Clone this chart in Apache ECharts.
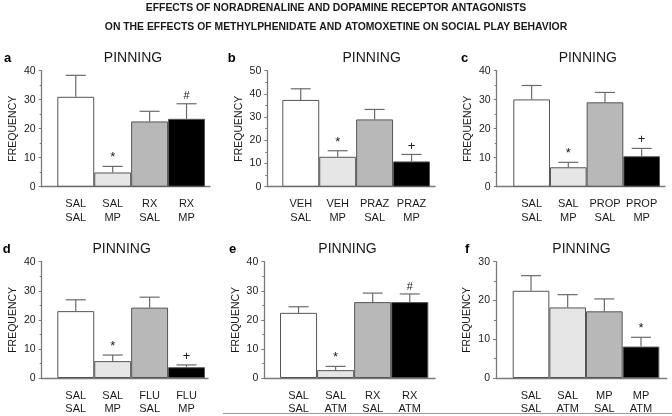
<!DOCTYPE html>
<html>
<head>
<meta charset="utf-8">
<script src="https://cdn.jsdelivr.net/npm/echarts@6/dist/echarts.min.js"></script>
<style>
  html, body { margin: 0; padding: 0; background: #fff; }
  #chart { width: 672px; height: 416px; }
</style>
</head>
<body>
<div id="chart"></div>
<script>
  // 数据
  const titleLines = [
    'EFFECTS OF NORADRENALINE AND DOPAMINE RECEPTOR ANTAGONISTS',
    'ON THE EFFECTS OF METHYLPHENIDATE AND ATOMOXETINE ON SOCIAL PLAY BEHAVIOR'
  ];
  const panelLetters = ['a', 'b', 'c', 'd', 'e', 'f'];
  const panelTitle = 'PINNING';
  const yName = 'FREQUENCY';
  const yMax = [40, 50, 40, 40, 40, 30];
  const yStep = 10;

  const catsA = ['SAL\nSAL', 'SAL\nMP', 'RX\nSAL', 'RX\nMP'];
  const meanA = [31.0, 4.9, 22.5, 23.4];
  const semA = [7.4, 2.1, 3.5, 5.2];
  const markA = ['', '*', '', '#'];

  const catsB = ['VEH\nSAL', 'VEH\nMP', 'PRAZ\nSAL', 'PRAZ\nMP'];
  const meanB = [37.4, 12.9, 29.0, 10.9];
  const semB = [4.8, 2.6, 4.3, 3.0];
  const markB = ['', '*', '', '+'];

  const catsC = ['SAL\nSAL', 'SAL\nMP', 'PROP\nSAL', 'PROP\nMP'];
  const meanC = [30.1, 6.7, 29.1, 10.5];
  const semC = [4.8, 1.7, 3.4, 2.7];
  const markC = ['', '*', '', '+'];

  const catsD = ['SAL\nSAL', 'SAL\nMP', 'FLU\nSAL', 'FLU\nMP'];
  const meanD = [23.0, 5.8, 24.2, 3.7];
  const semD = [3.9, 2.1, 3.6, 0.8];
  const markD = ['', '*', '', '+'];

  const catsE = ['SAL\nSAL', 'SAL\nATM', 'RX\nSAL', 'RX\nATM'];
  const meanE = [22.4, 2.7, 26.1, 26.1];
  const semE = [2.1, 1.3, 3.1, 2.8];
  const markE = ['', '*', '', '#'];

  const catsF = ['SAL\nSAL', 'SAL\nATM', 'MP\nSAL', 'MP\nATM'];
  const meanF = [22.5, 18.2, 17.2, 8.1];
  const semF = [3.9, 3.3, 3.2, 2.4];
  const markF = ['', '', '', '*'];

  const cats = [catsA, catsB, catsC, catsD, catsE, catsF];
  const means = [meanA, meanB, meanC, meanD, meanE, meanF];
  const sems = [semA, semB, semC, semD, semE, semF];
  const marks = [markA, markB, markC, markD, markE, markF];

  // 版面 (px)
  const boxes = [
    { xs: 41.7, bl: 57.3, br: 205, xe: 210, top: 70.7, bottom: 186.7, titleX: 133, letterX: 4, baseY: 62.7 },
    { xs: 267.3, bl: 282.3, br: 430, xe: 435, top: 70.7, bottom: 186.7, titleX: 371.7, letterX: 227.7, baseY: 62.7 },
    { xs: 496.7, bl: 513.3, br: 660, xe: 665, top: 70.7, bottom: 186.7, titleX: 587.8, letterX: 461, baseY: 62.7 },
    { xs: 41.7, bl: 57.3, br: 205, xe: 208, top: 261.7, bottom: 378.3, titleX: 121.7, letterX: 2.7, baseY: 254.3 },
    { xs: 264.3, bl: 280, br: 428.3, xe: 435, top: 261.7, bottom: 379, titleX: 347.5, letterX: 229, baseY: 254 },
    { xs: 496, bl: 512.7, br: 659.3, xe: 666.7, top: 261.7, bottom: 378.3, titleX: 581.5, letterX: 465, baseY: 254 }
  ];
  const barColors = ['#ffffff', '#e6e6e6', '#b8b8b8', '#000000'];
  const font = "'Liberation Sans', Arial, Helvetica, sans-serif";
  const axisColor = '#7a7a7a';
  const textColor = '#1a1a1a';

  const grid = [], xAxis = [], yAxis = [], series = [];
  const graphic = [];

  titleLines.forEach((t, i) => {
    graphic.push({
      type: 'text', x: 336, y: [8, 27][i],
      style: { text: t, font: 'bold 10.4px ' + font, fill: textColor, align: 'center', verticalAlign: 'middle' }
    });
  });

  boxes.forEach((b, i) => {
    const u = (b.br - b.bl) / 4;
    grid.push({ left: b.xs, top: b.top, width: b.xe - b.xs, height: b.bottom - b.top });
    xAxis.push({
      type: 'value', gridIndex: i,
      min: 0.5 - (b.bl - b.xs) / u,
      max: 4.5 + (b.xe - b.br) / u,
      axisLine: { lineStyle: { color: axisColor, width: 1.3 } },
      axisTick: { show: false },
      splitLine: { show: false },
      axisLabel: {
        customValues: [1, 2, 3, 4],
        formatter: v => cats[i][Math.round(v) - 1] || '',
        fontFamily: font, fontSize: 11, color: textColor, lineHeight: 13.5, margin: 11
      }
    });
    yAxis.push({
      type: 'value', gridIndex: i, min: 0, max: yMax[i], interval: yStep,
      name: yName, nameLocation: 'middle', nameRotate: 90, nameGap: 23,
      nameTextStyle: { fontFamily: font, fontSize: 10.5, color: textColor },
      axisLine: { show: true, lineStyle: { color: axisColor, width: 1.3 } },
      axisTick: { show: true, length: 3, lineStyle: { color: axisColor } },
      minorTick: { show: true, splitNumber: 2, length: 2, lineStyle: { color: axisColor } },
      splitLine: { show: false },
      axisLabel: { fontFamily: font, fontSize: 10.5, color: textColor, margin: 6 }
    });
    series.push({
      type: 'bar', xAxisIndex: i, yAxisIndex: i,
      barWidth: u,
      data: means[i].map((v, k) => ({
        value: [k + 1, v],
        itemStyle: { color: barColors[k], borderColor: '#555', borderWidth: 1 }
      })),
      silent: true
    });
    series.push({
      type: 'custom', xAxisIndex: i, yAxisIndex: i, z: 5, silent: true,
      data: means[i].map((v, k) => [k + 1, v, sems[i][k]]),
      renderItem: (params, api) => {
        const x = api.value(0), m = api.value(1), e = api.value(2);
        const p0 = api.coord([x, m]);
        const p1 = api.coord([x, m + e]);
        const cap = 10;
        const ls = { stroke: '#6a6a6a', lineWidth: 1.2 };
        const mk = marks[i][params.dataIndex];
        const children = [
          { type: 'line', shape: { x1: p0[0], y1: p0[1], x2: p1[0], y2: p1[1] }, style: ls },
          { type: 'line', shape: { x1: p1[0] - cap, y1: p1[1], x2: p1[0] + cap, y2: p1[1] }, style: ls }
        ];
        if (mk) {
          children.push({
            type: 'text', x: p1[0], y: p1[1] - 2,
            style: { text: mk, font: (mk === '#' ? '11px ' : '13px ') + font, fill: textColor, align: 'center', verticalAlign: 'bottom' }
          });
        }
        return { type: 'group', children: children };
      }
    });
    graphic.push({
      type: 'text', x: b.titleX, y: b.baseY - 5,
      style: { text: panelTitle, font: '14px ' + font, fill: textColor, align: 'center', verticalAlign: 'middle' }
    });
    graphic.push({
      type: 'text', x: b.letterX, y: b.baseY - 4.6,
      style: { text: panelLetters[i], font: 'bold 13px ' + font, fill: '#000', align: 'left', verticalAlign: 'middle' }
    });
  });

  graphic.push({
    type: 'line', shape: { x1: 223, y1: 413.5, x2: 672, y2: 413.5 },
    style: { stroke: '#9a9a9a', lineWidth: 1 }
  });

  const chart = echarts.init(document.getElementById('chart'));
  chart.setOption({
    animation: false,
    backgroundColor: '#fff',
    grid: grid,
    xAxis: xAxis,
    yAxis: yAxis,
    series: series,
    graphic: graphic
  });
</script>
</body>
</html>
